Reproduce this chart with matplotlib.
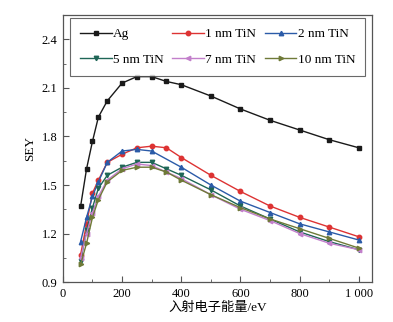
import numpy as np
import matplotlib.pyplot as plt
from matplotlib.ticker import MultipleLocator, FuncFormatter

plt.rcParams['font.family'] = ['Liberation Serif', 'Noto Sans CJK SC']
plt.rcParams['mathtext.fontset'] = 'stix'

# primary electron energy (eV)
energy = [60, 80, 100, 120, 150, 200, 250, 300, 350, 400, 500, 600, 700, 800, 900, 1000]
energy_2nm = [60, 80, 100, 120, 150, 200, 250, 300, 400, 500, 600, 700, 800, 900, 1000]

sey_ag = [1.37, 1.60, 1.77, 1.92, 2.02, 2.13, 2.17, 2.17, 2.14, 2.12, 2.05, 1.97, 1.90, 1.84, 1.78, 1.73]
sey_1nm = [1.07, 1.26, 1.45, 1.53, 1.64, 1.69, 1.73, 1.74, 1.73, 1.67, 1.56, 1.46, 1.37, 1.30, 1.24, 1.18]
sey_2nm = [1.15, 1.30, 1.43, 1.52, 1.64, 1.71, 1.72, 1.71, 1.61, 1.50, 1.40, 1.33, 1.26, 1.21, 1.16]
sey_5nm = [1.03, 1.22, 1.36, 1.48, 1.56, 1.61, 1.64, 1.64, 1.60, 1.56, 1.47, 1.37, 1.29, 1.21, 1.15, 1.10]
sey_7nm = [1.05, 1.20, 1.33, 1.43, 1.53, 1.60, 1.63, 1.62, 1.58, 1.54, 1.44, 1.35, 1.28, 1.20, 1.14, 1.10]
sey_10nm = [1.01, 1.14, 1.30, 1.41, 1.52, 1.59, 1.61, 1.61, 1.58, 1.53, 1.44, 1.36, 1.29, 1.23, 1.17, 1.11]

labels = ['Ag', '1 nm TiN', '2 nm TiN', '5 nm TiN', '7 nm TiN', '10 nm TiN']

series = [
    (energy, sey_ag, '#1a1a1a', 's'),
    (energy, sey_1nm, '#dd3333', 'o'),
    (energy_2nm, sey_2nm, '#2b5ba8', '^'),
    (energy, sey_5nm, '#1f6657', 'v'),
    (energy, sey_7nm, '#c27fcb', '<'),
    (energy, sey_10nm, '#6f7a38', '>'),
]

fig = plt.figure(figsize=(3.93, 3.22), dpi=100)
ax = fig.add_axes([0.160, 0.124, 0.787, 0.829])

lines = []
for (x, y, c, m), lab in zip(series, labels):
    ln, = ax.plot(x, y, color=c, marker=m, markersize=3.2, linewidth=1.0, label=lab)
    lines.append(ln)

ax.set_xlim(0, 1045)
ax.set_ylim(0.9, 2.55)
ax.xaxis.set_major_locator(MultipleLocator(200))
ax.xaxis.set_minor_locator(MultipleLocator(100))
ax.yaxis.set_major_locator(MultipleLocator(0.3))
ax.yaxis.set_minor_locator(MultipleLocator(0.15))
ax.xaxis.set_major_formatter(FuncFormatter(lambda v, p: '1 000' if v >= 1000 else '%d' % v))
ax.yaxis.set_major_formatter(FuncFormatter(lambda v, p: '%.1f' % v))

ax.tick_params(which='both', direction='in', top=False, right=False,
               labelsize=9, color='#555555', pad=4)
ax.tick_params(which='major', length=4)
ax.tick_params(which='minor', length=2.5)
for s in ax.spines.values():
    s.set_color('#555555')
    s.set_linewidth(0.9)

ax.set_xlabel('入射电子能量/eV', fontsize=9.5, labelpad=2)
ax.set_ylabel('SEY', fontsize=9.5, labelpad=4)

# legend fills column by column, so interleave to read row-wise
order = [0, 3, 1, 4, 2, 5]
leg = ax.legend([lines[i] for i in order], [labels[i] for i in order],
                ncol=3, loc='upper left', mode='expand',
                bbox_to_anchor=(0.023, 0.80, 0.954, 0.189),
                fontsize=9.5, handlelength=2.4, handletextpad=0.1,
                columnspacing=0.5, labelspacing=1.0, borderaxespad=0,
                borderpad=0.75, fancybox=False, frameon=True)
leg.get_frame().set_edgecolor('#444444')
leg.get_frame().set_linewidth(0.8)

fig.savefig('out.png', dpi=100)
